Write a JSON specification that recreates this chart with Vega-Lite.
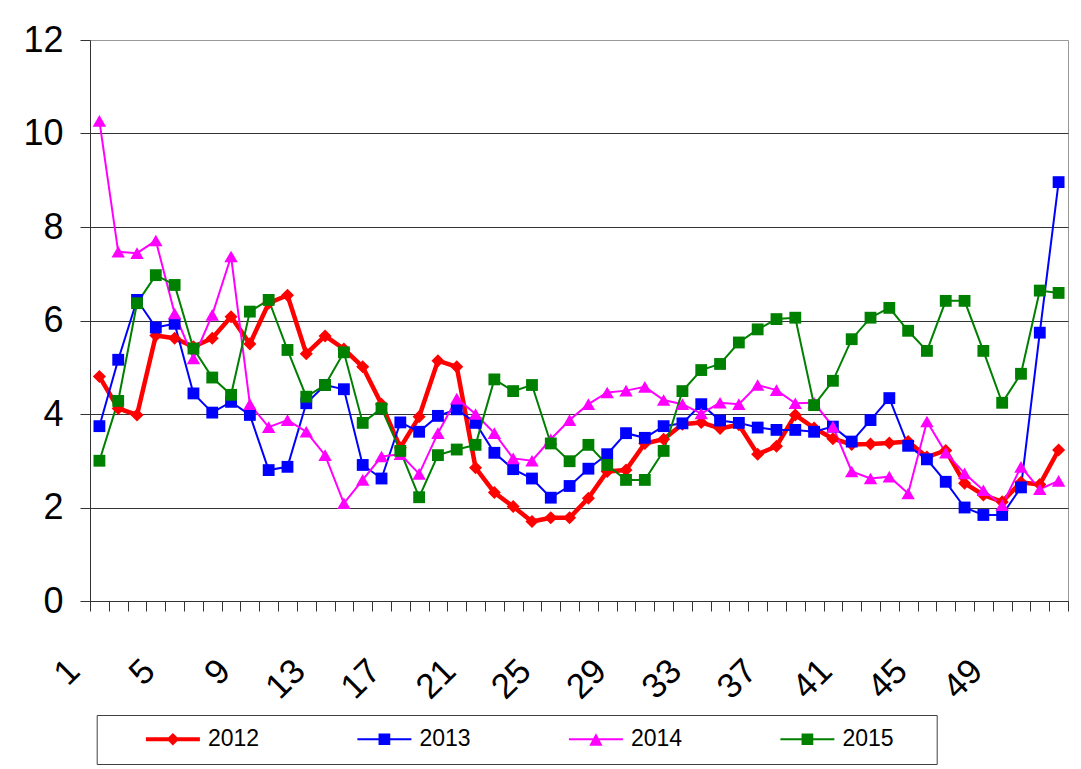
{
  "$schema": "https://vega.github.io/schema/vega-lite/v6.json",
  "width": 978,
  "height": 561,
  "autosize": {"type": "none"},
  "padding": {"left": 90, "top": 40, "right": 13, "bottom": 168},
  "background": "white",
  "config": {"font": "Liberation Sans", "view": {"stroke": "#999999", "strokeWidth": 1}},
  "data": {"values": [
    {"week":1,"year":"2012","value":4.80},{"week":2,"year":"2012","value":4.12},{"week":3,"year":"2012","value":3.98},{"week":4,"year":"2012","value":5.68},{"week":5,"year":"2012","value":5.62},{"week":6,"year":"2012","value":5.44},{"week":7,"year":"2012","value":5.62},{"week":8,"year":"2012","value":6.08},{"week":9,"year":"2012","value":5.50},{"week":10,"year":"2012","value":6.37},{"week":11,"year":"2012","value":6.54},{"week":12,"year":"2012","value":5.29},{"week":13,"year":"2012","value":5.67},{"week":14,"year":"2012","value":5.39},{"week":15,"year":"2012","value":5.01},{"week":16,"year":"2012","value":4.21},{"week":17,"year":"2012","value":3.28},{"week":18,"year":"2012","value":3.94},{"week":19,"year":"2012","value":5.14},{"week":20,"year":"2012","value":5.01},{"week":21,"year":"2012","value":2.85},{"week":22,"year":"2012","value":2.32},{"week":23,"year":"2012","value":2.02},{"week":24,"year":"2012","value":1.70},{"week":25,"year":"2012","value":1.78},{"week":26,"year":"2012","value":1.78},{"week":27,"year":"2012","value":2.20},{"week":28,"year":"2012","value":2.77},{"week":29,"year":"2012","value":2.80},{"week":30,"year":"2012","value":3.37},{"week":31,"year":"2012","value":3.46},{"week":32,"year":"2012","value":3.78},{"week":33,"year":"2012","value":3.82},{"week":34,"year":"2012","value":3.69},{"week":35,"year":"2012","value":3.77},{"week":36,"year":"2012","value":3.14},{"week":37,"year":"2012","value":3.31},{"week":38,"year":"2012","value":3.98},{"week":39,"year":"2012","value":3.70},{"week":40,"year":"2012","value":3.47},{"week":41,"year":"2012","value":3.35},{"week":42,"year":"2012","value":3.36},{"week":43,"year":"2012","value":3.38},{"week":44,"year":"2012","value":3.41},{"week":45,"year":"2012","value":3.08},{"week":46,"year":"2012","value":3.22},{"week":47,"year":"2012","value":2.52},{"week":48,"year":"2012","value":2.27},{"week":49,"year":"2012","value":2.12},{"week":50,"year":"2012","value":2.54},{"week":51,"year":"2012","value":2.49},{"week":52,"year":"2012","value":3.23},
    {"week":1,"year":"2013","value":3.74},{"week":2,"year":"2013","value":5.16},{"week":3,"year":"2013","value":6.44},{"week":4,"year":"2013","value":5.85},{"week":5,"year":"2013","value":5.93},{"week":6,"year":"2013","value":4.44},{"week":7,"year":"2013","value":4.03},{"week":8,"year":"2013","value":4.26},{"week":9,"year":"2013","value":3.98},{"week":10,"year":"2013","value":2.80},{"week":11,"year":"2013","value":2.87},{"week":12,"year":"2013","value":4.23},{"week":13,"year":"2013","value":4.62},{"week":14,"year":"2013","value":4.53},{"week":15,"year":"2013","value":2.91},{"week":16,"year":"2013","value":2.62},{"week":17,"year":"2013","value":3.82},{"week":18,"year":"2013","value":3.62},{"week":19,"year":"2013","value":3.96},{"week":20,"year":"2013","value":4.10},{"week":21,"year":"2013","value":3.81},{"week":22,"year":"2013","value":3.17},{"week":23,"year":"2013","value":2.82},{"week":24,"year":"2013","value":2.62},{"week":25,"year":"2013","value":2.21},{"week":26,"year":"2013","value":2.46},{"week":27,"year":"2013","value":2.83},{"week":28,"year":"2013","value":3.14},{"week":29,"year":"2013","value":3.59},{"week":30,"year":"2013","value":3.49},{"week":31,"year":"2013","value":3.74},{"week":32,"year":"2013","value":3.80},{"week":33,"year":"2013","value":4.21},{"week":34,"year":"2013","value":3.86},{"week":35,"year":"2013","value":3.81},{"week":36,"year":"2013","value":3.71},{"week":37,"year":"2013","value":3.66},{"week":38,"year":"2013","value":3.66},{"week":39,"year":"2013","value":3.62},{"week":40,"year":"2013","value":3.73},{"week":41,"year":"2013","value":3.41},{"week":42,"year":"2013","value":3.87},{"week":43,"year":"2013","value":4.34},{"week":44,"year":"2013","value":3.32},{"week":45,"year":"2013","value":3.03},{"week":46,"year":"2013","value":2.55},{"week":47,"year":"2013","value":2.00},{"week":48,"year":"2013","value":1.84},{"week":49,"year":"2013","value":1.84},{"week":50,"year":"2013","value":2.43},{"week":51,"year":"2013","value":5.74},{"week":52,"year":"2013","value":8.96},
    {"week":1,"year":"2014","value":10.27},{"week":2,"year":"2014","value":7.47},{"week":3,"year":"2014","value":7.44},{"week":4,"year":"2014","value":7.71},{"week":5,"year":"2014","value":6.15},{"week":6,"year":"2014","value":5.19},{"week":7,"year":"2014","value":6.12},{"week":8,"year":"2014","value":7.37},{"week":9,"year":"2014","value":4.21},{"week":10,"year":"2014","value":3.72},{"week":11,"year":"2014","value":3.87},{"week":12,"year":"2014","value":3.62},{"week":13,"year":"2014","value":3.12},{"week":14,"year":"2014","value":2.09},{"week":15,"year":"2014","value":2.59},{"week":16,"year":"2014","value":3.09},{"week":17,"year":"2014","value":3.14},{"week":18,"year":"2014","value":2.72},{"week":19,"year":"2014","value":3.59},{"week":20,"year":"2014","value":4.33},{"week":21,"year":"2014","value":4.00},{"week":22,"year":"2014","value":3.59},{"week":23,"year":"2014","value":3.05},{"week":24,"year":"2014","value":3.00},{"week":25,"year":"2014","value":3.46},{"week":26,"year":"2014","value":3.87},{"week":27,"year":"2014","value":4.21},{"week":28,"year":"2014","value":4.46},{"week":29,"year":"2014","value":4.50},{"week":30,"year":"2014","value":4.58},{"week":31,"year":"2014","value":4.30},{"week":32,"year":"2014","value":4.21},{"week":33,"year":"2014","value":4.01},{"week":34,"year":"2014","value":4.24},{"week":35,"year":"2014","value":4.21},{"week":36,"year":"2014","value":4.62},{"week":37,"year":"2014","value":4.51},{"week":38,"year":"2014","value":4.23},{"week":39,"year":"2014","value":4.24},{"week":40,"year":"2014","value":3.73},{"week":41,"year":"2014","value":2.77},{"week":42,"year":"2014","value":2.62},{"week":43,"year":"2014","value":2.66},{"week":44,"year":"2014","value":2.30},{"week":45,"year":"2014","value":3.84},{"week":46,"year":"2014","value":3.17},{"week":47,"year":"2014","value":2.73},{"week":48,"year":"2014","value":2.37},{"week":49,"year":"2014","value":2.05},{"week":50,"year":"2014","value":2.87},{"week":51,"year":"2014","value":2.39},{"week":52,"year":"2014","value":2.57},
    {"week":1,"year":"2015","value":3.00},{"week":2,"year":"2015","value":4.28},{"week":3,"year":"2015","value":6.37},{"week":4,"year":"2015","value":6.97},{"week":5,"year":"2015","value":6.76},{"week":6,"year":"2015","value":5.40},{"week":7,"year":"2015","value":4.78},{"week":8,"year":"2015","value":4.41},{"week":9,"year":"2015","value":6.19},{"week":10,"year":"2015","value":6.44},{"week":11,"year":"2015","value":5.37},{"week":12,"year":"2015","value":4.37},{"week":13,"year":"2015","value":4.62},{"week":14,"year":"2015","value":5.32},{"week":15,"year":"2015","value":3.81},{"week":16,"year":"2015","value":4.12},{"week":17,"year":"2015","value":3.21},{"week":18,"year":"2015","value":2.22},{"week":19,"year":"2015","value":3.12},{"week":20,"year":"2015","value":3.24},{"week":21,"year":"2015","value":3.34},{"week":22,"year":"2015","value":4.74},{"week":23,"year":"2015","value":4.49},{"week":24,"year":"2015","value":4.62},{"week":25,"year":"2015","value":3.37},{"week":26,"year":"2015","value":2.99},{"week":27,"year":"2015","value":3.34},{"week":28,"year":"2015","value":2.91},{"week":29,"year":"2015","value":2.59},{"week":30,"year":"2015","value":2.59},{"week":31,"year":"2015","value":3.21},{"week":32,"year":"2015","value":4.49},{"week":33,"year":"2015","value":4.94},{"week":34,"year":"2015","value":5.07},{"week":35,"year":"2015","value":5.53},{"week":36,"year":"2015","value":5.81},{"week":37,"year":"2015","value":6.03},{"week":38,"year":"2015","value":6.06},{"week":39,"year":"2015","value":4.19},{"week":40,"year":"2015","value":4.71},{"week":41,"year":"2015","value":5.60},{"week":42,"year":"2015","value":6.06},{"week":43,"year":"2015","value":6.27},{"week":44,"year":"2015","value":5.78},{"week":45,"year":"2015","value":5.35},{"week":46,"year":"2015","value":6.42},{"week":47,"year":"2015","value":6.42},{"week":48,"year":"2015","value":5.35},{"week":49,"year":"2015","value":4.24},{"week":50,"year":"2015","value":4.86},{"week":51,"year":"2015","value":6.64},{"week":52,"year":"2015","value":6.59}
  ]},
  "encoding": {
    "x": {
      "field": "week", "type": "quantitative",
      "scale": {"domain": [0.5, 52.5], "nice": false, "zero": false},
      "axis": {
        "title": null, "grid": false,
        "values": [0.5,1.5,2.5,3.5,4.5,5.5,6.5,7.5,8.5,9.5,10.5,11.5,12.5,13.5,14.5,15.5,16.5,17.5,18.5,19.5,20.5,21.5,22.5,23.5,24.5,25.5,26.5,27.5,28.5,29.5,30.5,31.5,32.5,33.5,34.5,35.5,36.5,37.5,38.5,39.5,40.5,41.5,42.5,43.5,44.5,45.5,46.5,47.5,48.5,49.5,50.5,51.5,52.5,1,5,9,13,17,21,25,29,33,37,41,45,49],
        "domainColor": "#333333", "tickColor": "#333333", "tickSize": 10,
        "tickOpacity": {"condition": {"test": "datum.value % 1 === 0", "value": 0}, "value": 1},
        "labelExpr": "datum.value % 1 === 0 ? datum.label : ''",
        "labelAngle": -45, "labelAlign": "right", "labelBaseline": "middle",
        "labelFontSize": 35, "labelColor": "#000000", "labelPadding": 54, "labelOffset": -26,
        "labelOverlap": false, "labelFlush": false, "labelBound": false
      }
    },
    "y": {
      "field": "value", "type": "quantitative",
      "scale": {"domain": [0, 12], "nice": false},
      "axis": {
        "title": null, "values": [0,2,4,6,8,10,12], "grid": true, "gridColor": "#333333",
        "gridOpacity": {"condition": {"test": "datum.value === 12", "value": 0}, "value": 1},
        "domainColor": "#333333", "tickColor": "#333333", "tickSize": 10,
        "labelFontSize": 36, "labelPadding": 17, "labelColor": "#000000"
      }
    },
    "color": {
      "field": "year", "type": "nominal",
      "scale": {"domain": ["2012","2013","2014","2015"], "range": ["#ff0000","#0000ff","#ff00ff","#008000"]},
      "legend": {
        "title": "\u00a0", "titleOrient": "left", "titleFontSize": 23, "titlePadding": 36.7,
        "orient": "none", "legendX": 6.7, "legendY": 675,
        "direction": "horizontal", "columns": 4, "columnPadding": 93.5,
        "padding": 12.5, "strokeColor": "#404040", "fillColor": "#ffffff", "cornerRadius": 0,
        "labelFontSize": 23, "labelColor": "#000000", "labelOffset": 23.5,
        "symbolSize": 2916, "symbolOpacity": 1, "symbolStrokeWidth": 2, "symbolOffset": 15.5,
        "encode": {
          "symbols": {
            "update": {
              "shape": {"signal": "datum.value === '2012' ? 'M-1,0L1,0M-0.13,0L0,-0.13L0.13,0L0,0.13Z' : (datum.value === '2014' ? 'M-1,0L1,0M0,-0.145L0.185,0.207L-0.185,0.207Z' : (datum.value === '2015' ? 'M-1,0L1,0M-0.18,-0.18L0.18,-0.18L0.18,0.18L-0.18,0.18ZM4.15,0' : 'M-1,0L1,0M-0.18,-0.18L0.18,-0.18L0.18,0.18L-0.18,0.18Z'))"},
              "size": {"value": 2916},
              "fill": {"signal": "scale('color', datum.value)"},
              "stroke": {"signal": "scale('color', datum.value)"},
              "strokeWidth": {"signal": "datum.value === '2012' ? 4 : 2"},
              "opacity": {"value": 1},
              "fillOpacity": {"value": 1},
              "strokeOpacity": {"value": 1}
            }
          }
        }
      }
    }
  },
  "layer": [
    {
      "mark": {"type": "line"},
      "encoding": {
        "strokeWidth": {"condition": {"test": "datum.year === '2012'", "value": 4.5}, "value": 2}
      }
    },
    {
      "mark": {"type": "point", "filled": true, "opacity": 1},
      "encoding": {
        "shape": {"condition": [{"test": "datum.year === '2012'", "value": "diamond"}, {"test": "datum.year === '2014'", "value": "triangle-up"}], "value": "square"},
        "size": {"condition": [{"test": "datum.year === '2012'", "value": 170}, {"test": "datum.year === '2014'", "value": 180}], "value": 140}
      }
    }
  ]
}
